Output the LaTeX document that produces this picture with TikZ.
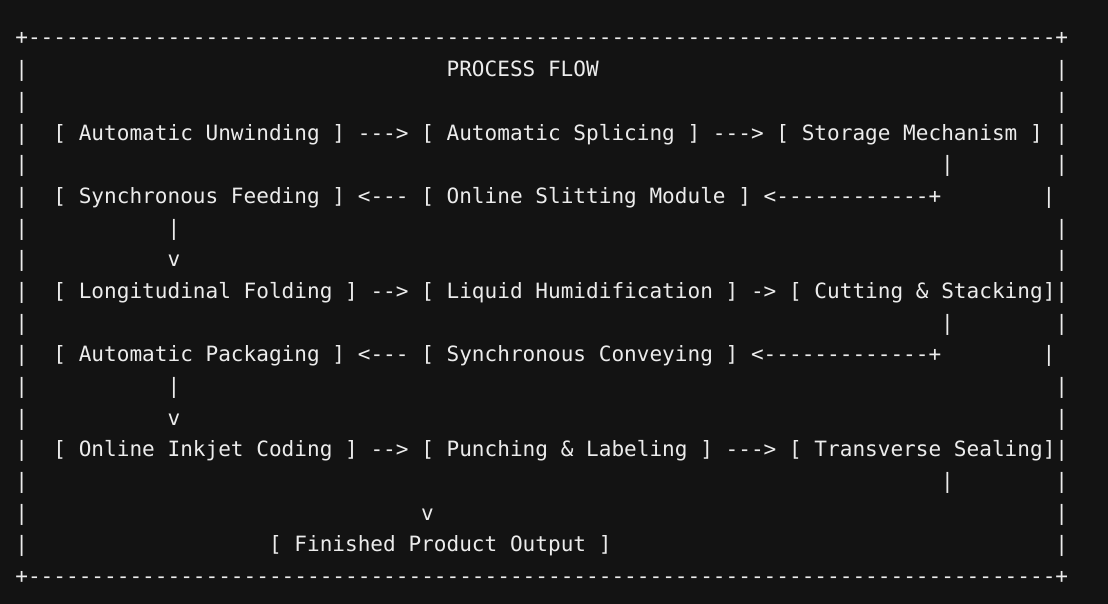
\documentclass[tikz,border=0pt]{standalone}
\usepackage{fontspec}
\setmonofont{DejaVu Sans Mono}
\definecolor{bgc}{RGB}{19,19,19}
\definecolor{fgc}{RGB}{236,236,236}
\newcommand\myrep[2]{\ifnum#1>0 #2\myrep{\numexpr#1-1}{#2}\fi}
\newcommand\seg[4]{\node[txt] (#1) at ({15.36+12.683*#3},{45+31.67*#2}) {#4};}
\begin{document}
\begin{tikzpicture}[x=1pt,y=-1pt,
  txt/.style={anchor=base west,inner sep=0pt,outer sep=0pt,text=fgc,
    font=\ttfamily\fontsize{21.07pt}{25pt}\selectfont}]
\useasboundingbox (0,0) rectangle (1108,604);
\fill[bgc] (0,0) rectangle (1108,604);
% borders
\seg{top}{0}{0}{+\myrep{81}{-}+}
\seg{bot}{17}{0}{+\myrep{81}{-}+}
% left wall
\foreach \r in {1,...,16} {\seg{L\r}{\r}{0}{|}}
% right wall
\foreach \r in {1,2,4,6,7,9,11,12,14,15,16} {\seg{R\r}{\r}{82}{|}}
\seg{R5}{5}{81}{|}
\seg{R10}{10}{81}{|}
% title
\seg{title}{1}{34}{PROCESS FLOW}
% row 3
\seg{row3}{3}{3}{[ Automatic Unwinding ] ---> [ Automatic Splicing ] ---> [ Storage Mechanism ] |}
\seg{v4}{4}{73}{|}
% row 5
\seg{row5}{5}{3}{[ Synchronous Feeding ] <--- [ Online Slitting Module ] <------------+}
\seg{v6}{6}{12}{|}
\seg{a7}{7}{12}{v}
% row 8
\seg{row8}{8}{3}{[ Longitudinal Folding ] --> [ Liquid Humidification ] -> [ Cutting \& Stacking]|}
\seg{v9}{9}{73}{|}
% row 10
\seg{row10}{10}{3}{[ Automatic Packaging ] <--- [ Synchronous Conveying ] <-------------+}
\seg{v11}{11}{12}{|}
\seg{a12}{12}{12}{v}
% row 13
\seg{row13}{13}{3}{[ Online Inkjet Coding ] --> [ Punching \& Labeling ] ---> [ Transverse Sealing]|}
\seg{v14}{14}{73}{|}
\seg{a15}{15}{32}{v}
\seg{row16}{16}{20}{[ Finished Product Output ]}
\end{tikzpicture}
\end{document}
